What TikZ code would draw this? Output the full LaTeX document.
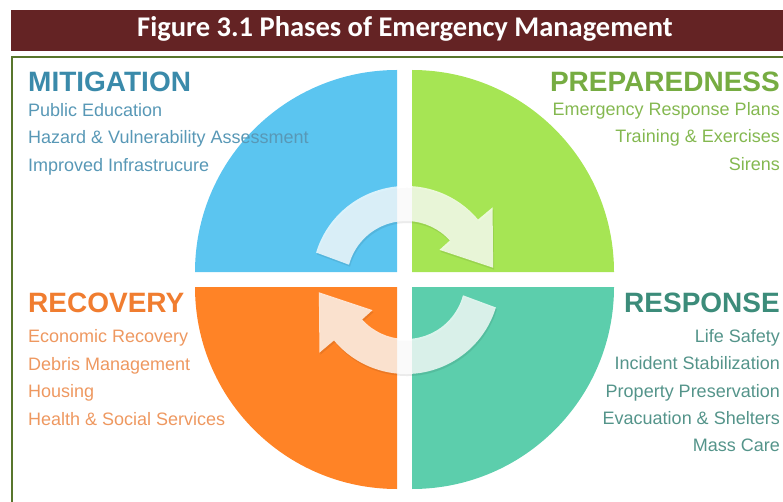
\documentclass[tikz,border=0pt]{standalone}
\usepackage{fontspec}
\setmainfont{Liberation Sans}
\newfontfamily\titlefont{Carlito}
\usetikzlibrary{calc}

\definecolor{barmaroon}{RGB}{100,35,36}
\definecolor{frameolive}{RGB}{88,118,44}
\definecolor{mitblue}{RGB}{91,197,240}
\definecolor{prepgreen}{RGB}{166,229,84}
\definecolor{recorange}{RGB}{255,131,38}
\definecolor{respteal}{RGB}{92,206,172}
\definecolor{mithead}{RGB}{58,138,170}
\definecolor{mittext}{RGB}{88,152,182}
\definecolor{prephead}{RGB}{118,172,66}
\definecolor{preptext}{RGB}{132,184,80}
\definecolor{rechead}{RGB}{240,125,48}
\definecolor{rectext}{RGB}{238,152,96}
\definecolor{resphead}{RGB}{60,140,122}
\definecolor{resptext}{RGB}{84,148,138}

% curved arrow round (C); #1 turns it, #2 is the fill
\newcommand{\cyclearrow}[2]{%
  \fill[#2] ($(C)+(#1-163:94)$) arc[start angle=#1-163, end angle=#1-40, radius=94]
    -- ($(C)+(#1-40:113)$) -- ($(C)+(#1-8:88)$) -- ($(C)+(#1-42:45)$)
    -- ($(C)+(#1-42:59)$) arc[start angle=#1-42, end angle=#1-165, radius=59] -- cycle;}

\begin{document}
\begin{tikzpicture}[x=1pt, y=-1pt,
  phase/.style={font=\fontsize{28}{30}\selectfont\bfseries, inner sep=0pt},
  item/.style={font=\fontsize{18}{20}\selectfont, inner sep=0pt},
  cyclefill/.style={fill=white, fill opacity=0.78},
  cycleshade/.style={fill=black, fill opacity=0.08}]
  \useasboundingbox (0,0) rectangle (783,502);
  % title bar
  \fill[barmaroon] (11,10) rectangle (783,51);
  \node (title) [anchor=base, text=white, inner sep=0pt,
    font=\titlefont\fontsize{28.5}{30}\selectfont\bfseries] at (405,37)
    {Figure 3.1 Phases of Emergency Management};
  \draw[frameolive, line width=2] (12,502) -- (12,57) -- (783,57);

  % four quarters
  \coordinate (C) at (406,280);
  \fill[mitblue] (397,272) -- ++(-202,0) arc[start angle=180, end angle=270, radius=202] -- cycle;
  \fill[prepgreen] (412,272) -- ++(0,-202) arc[start angle=270, end angle=360, radius=202] -- cycle;
  \fill[respteal] (412,287) -- ++(202,0) arc[start angle=0, end angle=90, radius=202] -- cycle;
  \fill[recorange] (397,287) -- ++(0,202) arc[start angle=90, end angle=180, radius=202] -- cycle;

  % the two arrows
  \begin{scope}[transform canvas={shift={(1,2)}}]
    \cyclearrow{0}{cycleshade}
    \cyclearrow{180}{cycleshade}
  \end{scope}
  \cyclearrow{0}{cyclefill}
  \cyclearrow{180}{cyclefill}

  % mitigation
  \node (mit) [phase, text=mithead, anchor=base west] at (28,92) {MITIGATION};
  \node (mit1) [item, text=mittext, anchor=base west] at (28,117) {Public Education};
  \node (mit2) [item, text=mittext, anchor=base west] at (28,144) {Hazard \& Vulnerability Assessment};
  \node (mit3) [item, text=mittext, anchor=base west] at (28,172) {Improved Infrastrucure};

  % preparedness
  \node (prep) [phase, text=prephead, anchor=base east] at (780,92) {PREPAREDNESS};
  \node (prep1) [item, text=preptext, anchor=base east] at (780,116) {Emergency Response Plans};
  \node (prep2) [item, text=preptext, anchor=base east] at (780,143) {Training \& Exercises};
  \node (prep3) [item, text=preptext, anchor=base east] at (780,171) {Sirens};

  % recovery
  \node (rec) [phase, text=rechead, anchor=base west] at (28,312) {RECOVERY};
  \node (rec1) [item, text=rectext, anchor=base west] at (28,342) {Economic Recovery};
  \node (rec2) [item, text=rectext, anchor=base west] at (28,370) {Debris Management};
  \node (rec3) [item, text=rectext, anchor=base west] at (28,397) {Housing};
  \node (rec4) [item, text=rectext, anchor=base west] at (28,425) {Health \& Social Services};

  % response
  \node (resp) [phase, text=resphead, anchor=base east] at (780,312) {RESPONSE};
  \node (resp1) [item, text=resptext, anchor=base east] at (780,342) {Life Safety};
  \node (resp2) [item, text=resptext, anchor=base east] at (780,369) {Incident Stabilization};
  \node (resp3) [item, text=resptext, anchor=base east] at (780,397) {Property Preservation};
  \node (resp4) [item, text=resptext, anchor=base east] at (780,424) {Evacuation \& Shelters};
  \node (resp5) [item, text=resptext, anchor=base east] at (780,451) {Mass Care};
\end{tikzpicture}
\end{document}
